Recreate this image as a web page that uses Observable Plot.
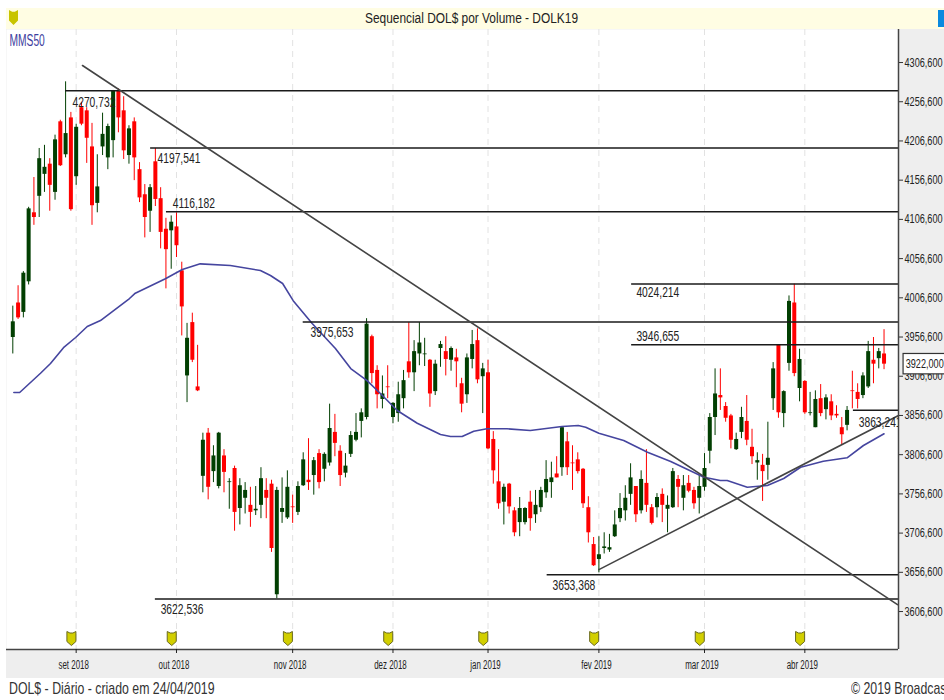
<!DOCTYPE html>
<html>
<head>
<meta charset="utf-8">
<script src="https://cdn.jsdelivr.net/npm/d3@7"></script>
<script src="https://cdn.jsdelivr.net/npm/@observablehq/plot@0.6"></script>
<style>
  html,body{margin:0;padding:0;background:#fff;width:944px;height:700px;overflow:hidden;font-family:"Liberation Sans",sans-serif;}
  #top{position:relative;margin:8px 0 0 6px;height:21px;background:#fffde3;color:#222;font-size:14px;line-height:20px;}
  #top span{position:absolute;left:359px;top:0;white-space:nowrap;transform:scaleX(.85);transform-origin:left center;}
  #shield{position:absolute;left:3px;top:2px;width:9px;height:15px;background:#c8c400;clip-path:polygon(0 0,35% 12%,65% 12%,100% 0,100% 70%,50% 100%,0 70%);}
  #icon{position:absolute;right:0;top:2px;width:6px;height:17px;background:#0a8adf;}
  #chart{margin-left:6px;height:649px;}
  #foot{position:relative;height:22px;color:#333;font-size:17px;}
  #foot span{position:absolute;top:1px;white-space:nowrap;transform:scaleX(.725);transform-origin:left center;}
  #foot .l{left:9px;}
  #foot .r{left:851px;}
</style>
</head>
<body>
<div id="top"><div id="shield"></div><span>Sequencial DOL$ por Volume - DOLK19</span><div id="icon"></div></div>
<div id="chart"></div>
<div id="foot"><span class="l">DOL$ - Diário - criado em 24/04/2019</span><span class="r">© 2019 Broadcast</span></div>
<script>
const direction =
  "GRGGRGGRGR" + "GRGRRRGGGG" + "RRGRRRGRRR" + "GRRGRRGRGG" + "RGRGGRGGRR" +
  "GGGRGGRGRG" + "GRRGGGGGRR" + "GRGGGRGGGR" + "GGRGRRGGRG" + "RRRGRRGGRG" +
  "GGGRGRRRRR" + "RGGGGGGGRG" + "RRGRGGRGRR" + "GGGGRRRGGR" + "RGRGGRGGRG" +
  "RGGRGRRRGR" + "RGGRGR";

const highs = [
3996,4022,4040,4122,4160,4197,4201,4184,4214,4233,
4282,4243,4228,4256,4249,4229,4189,4242,4228,4271,
4273,4263,4226,4236,4179,4151,4151,4197,4147,4108,
4111,4115,4052,3974,3987,3946,3834,3840,3818,3835,
3813,3776,3792,3776,3771,3765,3766,3790,3776,3774,
3765,3777,3786,3755,3772,3809,3827,3803,3813,3809,
3871,3858,3818,3808,3836,3859,3865,3980,3959,3920,
3907,3920,3873,3899,3914,3975,3952,3975,3955,3928,
3927,3951,3957,3944,3941,3904,3935,3965,3967,3923,
3927,3836,3813,3769,3770,3739,3752,3739,3760,3761,
3765,3799,3797,3804,3842,3835,3818,3809,3789,3753,
3701,3702,3707,3705,3735,3757,3767,3795,3766,3786,
3813,3743,3757,3763,3754,3789,3780,3780,3780,3765,
3780,3808,3859,3916,3916,3873,3858,3834,3867,3882,
3839,3809,3807,3848,3924,3946,3888,4009,4024,3941,
3901,3886,3888,3896,3883,3883,3869,3854,3868,3913,
3897,3911,3951,3956,3942,3966];

const bodyTops = [
3976,4000,4038,4120,4115,4184,4173,4177,4208,4231,
4216,4236,4224,4249,4245,4199,4148,4215,4225,4270,
4270,4245,4222,4231,4170,4138,4147,4180,4133,4094,
4103,4097,4041,3955,3975,3893,3825,3834,3805,3834,
3805,3772,3789,3767,3761,3742,3737,3776,3761,3769,
3761,3738,3765,3740,3766,3800,3774,3799,3808,3807,
3840,3835,3811,3792,3831,3835,3860,3973,3957,3914,
3884,3893,3872,3883,3901,3925,3938,3949,3935,3927,
3922,3947,3938,3942,3930,3897,3930,3947,3952,3916,
3911,3826,3772,3765,3769,3735,3738,3738,3746,3742,
3761,3775,3777,3782,3841,3823,3796,3800,3788,3739,
3692,3679,3689,3688,3717,3738,3751,3777,3766,3775,
3770,3739,3752,3756,3742,3785,3775,3767,3770,3761,
3766,3789,3854,3884,3882,3868,3856,3826,3854,3849,
3816,3799,3793,3802,3916,3946,3887,4002,4000,3928,
3900,3860,3877,3878,3879,3874,3858,3841,3863,3888,
3886,3907,3938,3927,3938,3935];

const bodyBottoms = [
3956,3981,3988,4027,4109,4136,4164,4150,4141,4175,
4189,4119,4161,4228,4210,4124,4127,4199,4185,4207,
4236,4194,4188,4185,4134,4109,4117,4132,4090,4068,
4092,4073,3995,3907,3927,3888,3779,3765,3785,3766,
3784,3771,3733,3738,3751,3733,3735,3742,3751,3687,
3628,3733,3726,3739,3733,3767,3771,3780,3771,3788,
3796,3821,3780,3783,3807,3825,3849,3854,3910,3883,
3877,3892,3854,3859,3878,3911,3911,3935,3934,3884,
3887,3942,3928,3927,3925,3871,3883,3928,3902,3906,
3814,3786,3744,3746,3740,3707,3720,3720,3725,3730,
3739,3758,3771,3777,3790,3790,3795,3785,3744,3707,
3665,3673,3687,3685,3702,3725,3735,3756,3730,3735,
3742,3719,3739,3742,3737,3739,3765,3751,3760,3744,
3751,3765,3811,3854,3879,3853,3825,3813,3835,3825,
3804,3796,3785,3793,3878,3860,3859,3923,3910,3891,
3860,3859,3841,3859,3864,3856,3856,3832,3844,3887,
3877,3882,3893,3922,3929,3922];

const lows = [
3935,3979,3981,4023,4099,4109,4141,4117,4131,4174,
4185,4117,4150,4226,4178,4099,4115,4188,4170,4185,
4217,4183,4177,4156,4128,4083,4090,4123,4069,4018,
4043,4058,3958,3873,3924,3887,3758,3749,3771,3763,
3758,3737,3709,3717,3731,3714,3729,3725,3725,3682,
3623,3719,3724,3719,3729,3766,3761,3755,3763,3772,
3792,3804,3766,3777,3803,3823,3828,3851,3897,3865,
3865,3878,3846,3848,3865,3904,3887,3920,3919,3867,
3882,3918,3907,3913,3892,3860,3872,3916,3897,3859,
3813,3769,3737,3717,3731,3702,3702,3717,3709,3719,
3733,3751,3751,3777,3779,3780,3761,3782,3738,3694,
3664,3656,3680,3682,3701,3720,3722,3742,3720,3731,
3733,3717,3726,3720,3707,3738,3739,3735,3758,3737,
3731,3760,3795,3831,3863,3848,3814,3812,3827,3818,
3794,3774,3747,3774,3863,3853,3841,3913,3906,3874,
3858,3856,3841,3855,3851,3850,3853,3819,3837,3865,
3865,3878,3891,3897,3916,3915];

const monthTicks = [12,31,53,72,90,111,131,150];
const monthLabels = ["set 2018","out 2018","nov 2018","dez 2018","jan 2019","fev 2019","mar 2019","abr 2019"];
const priceTicks = [4306.6,4256.6,4206.6,4156.6,4106.6,4056.6,4006.6,3956.6,3906.6,3856.6,3806.6,3756.6,3706.6,3656.6,3606.6];

const maIndex = [0.2,1.3,5.25,7.14,9.6,11.9,14.1,16.6,19.1,22.1,23.2,28.9,32.1,35.5,41.2,46.9,48.8,51.1,53.1,56.7,61.1,64,67.1,70,72.8,76.6,81,82.9,85.1,87.3,89.8,93.6,98,104,107.1,108.5,111,115.7,120.2,124.6,130.9,134,135.3,139.1,142.9,146,149.2,153.5,158,161.1,165];
const maValues = [3885.9,3885.9,3910.4,3922.8,3943,3956,3970,3977.6,3990.4,4005.7,4012.5,4031,4042.6,4049.9,4047.8,4041.4,4035,4024.8,4003,3973.8,3942,3916.4,3901,3882,3862.9,3846.7,3832.3,3829.8,3829.8,3836.5,3839.6,3839.6,3837.4,3842.5,3843.8,3841.6,3833.9,3824.7,3809.7,3797.9,3777.8,3773.6,3773.6,3765,3767.3,3776.2,3790.6,3798.2,3802.6,3818.3,3833.2];

const levels = [4270.732,4197.541,4116.182,4024.214,3975.653,3946.655,3863.241,3653.368,3622.536];
const levelStart = [10,26.1,29.1,117.2,55,117.2,159.2,101.2,27];
const levelLabels = ["4270,732","4197,541","4116,182","4024,214","3975,653","3946,655","3863,241","3653,368","3622,536"];
const labelIndex = [11.3,27.4,30.3,118.1,56.4,118.1,160.2,102.2,28];
const labelPrice = [4256,4184,4127,4013,3962,3958,3848,3640,3610];

const trendIndex = [[13.2,167.55],[111,167.74]];
const trendPrice = [[4302.8,3615.5],[3660,3856.5]];

const shieldIndex = monthTicks.map(t => t - 0.9);
const shieldPrice = monthTicks.map(() => 3572.2);
const xLeft = -1.193, xRight = 167.74, yBottom = 3558.2, yTop = 4348.7;
const FONT = '"Liberation Sans",sans-serif';

const candles = highs.map((h,i)=>({i,h,t:bodyTops[i],b:bodyBottoms[i],l:lows[i],up:direction[i]==="G"}));
const colorOf = d => d.up ? "#023f02" : "#ff0000";
const levelRows = levels.map((v,k)=>({v,s:levelStart[k],e:xRight,label:levelLabels[k],lx:labelIndex[k],ly:labelPrice[k]}));
const maRows = maIndex.map((x,k)=>({x,y:maValues[k]}));
const trendRows = trendIndex.flatMap((xs,k)=>xs.map((x,j)=>({k,x,y:trendPrice[k][j]})));

const shield = {draw(ctx,size){
  const s = Math.sqrt(size)/11.5;
  ctx.moveTo(-4.5*s,-7*s);ctx.lineTo(-1.5*s,-5.5*s);ctx.lineTo(1.5*s,-5.5*s);ctx.lineTo(4.5*s,-7*s);
  ctx.lineTo(4.5*s,3*s);ctx.lineTo(0,7*s);ctx.lineTo(-4.5*s,3*s);ctx.closePath();
}};

const chart = Plot.plot({
  width:938,height:649,marginLeft:0,marginRight:46,marginTop:0,marginBottom:29,
  style:{background:"#eeeeee",fontFamily:FONT,color:"#222"},
  x:{domain:[xLeft,xRight]},
  y:{domain:[yBottom,yTop]},
  marks:[
    Plot.frame({fill:"#ffffff",stroke:null}),
    Plot.ruleX(monthTicks,{x:d=>d,stroke:"#e2e2e2",strokeWidth:1,strokeDasharray:"6,5"}),
    Plot.ruleX(candles,{x:"i",y1:"l",y2:"h",stroke:colorOf,strokeWidth:1}),
    Plot.ruleX(candles,{x:"i",y1:"b",y2:"t",stroke:colorOf,strokeWidth:4}),
    Plot.line(maRows,{x:"x",y:"y",stroke:"#45459f",strokeWidth:1.6}),
    Plot.ruleY(levelRows,{y:"v",x1:"s",x2:"e",stroke:"#1a1a1a",strokeWidth:1.5}),
    Plot.line(trendRows,{x:"x",y:"y",z:"k",stroke:"#444444",strokeWidth:1.6}),
    Plot.text(levelRows,{x:"lx",y:"ly",text:"label",textAnchor:"start",fontSize:14.5,fill:"#222"}),
    Plot.text(["MMS50"],{x:[-0.63],y:[4334.6],textAnchor:"start",fontSize:16,fill:"#3d3d9e"}),
    Plot.dot(shieldIndex,{x:d=>d,y:shieldPrice,r:6.5,symbol:shield,fill:"#d2cf00",stroke:"#6a6a20",strokeWidth:1}),
    Plot.rect([0],{x1:xRight,x2:178,y1:yBottom,y2:yTop,fill:"#eeeeee"}),
    Plot.ruleX([xRight],{stroke:"#444",strokeWidth:1.5}),
    Plot.ruleY([yBottom],{stroke:"#444",strokeWidth:1.5}),
    Plot.axisY({anchor:"right",ticks:priceTicks,tickSize:4,tickPadding:2,fontSize:12.5,tickFormat:d=>d.toFixed(3).replace(".",","),label:null,stroke:"#333",color:"#222"}),
    Plot.axisX({anchor:"bottom",ticks:monthTicks,tickSize:4,text:null,label:null}),
    Plot.axisX({anchor:"bottom",ticks:monthTicks,tickSize:0,tickPadding:11,dx:-2.5,fontSize:12,tickFormat:d=>monthLabels[monthTicks.indexOf(d)],label:null}),
    Plot.rect([0],{x1:168.7,x2:178,y1:3909,y2:3935,fill:"#ffffff",stroke:"#333",strokeWidth:1.2}),
    Plot.text(["3922,000"],{x:[169.1],y:[3922],textAnchor:"start",fontSize:12.5,fill:"#222"})
  ]
});
document.getElementById("chart").appendChild(chart);
// condense the SVG text: the reference uses a narrow face
chart.querySelectorAll("text").forEach(t => {
  const s = t.textContent.trim();
  const k = monthLabels.includes(s) ? 0.66 : levelLabels.includes(s) ? 0.71 : s === "MMS50" ? 0.64 : 0.73;
  const w = t.getComputedTextLength();
  t.setAttribute("textLength", (w * k).toFixed(1));
  t.setAttribute("lengthAdjust", "spacingAndGlyphs");
});
</script>
</body>
</html>
